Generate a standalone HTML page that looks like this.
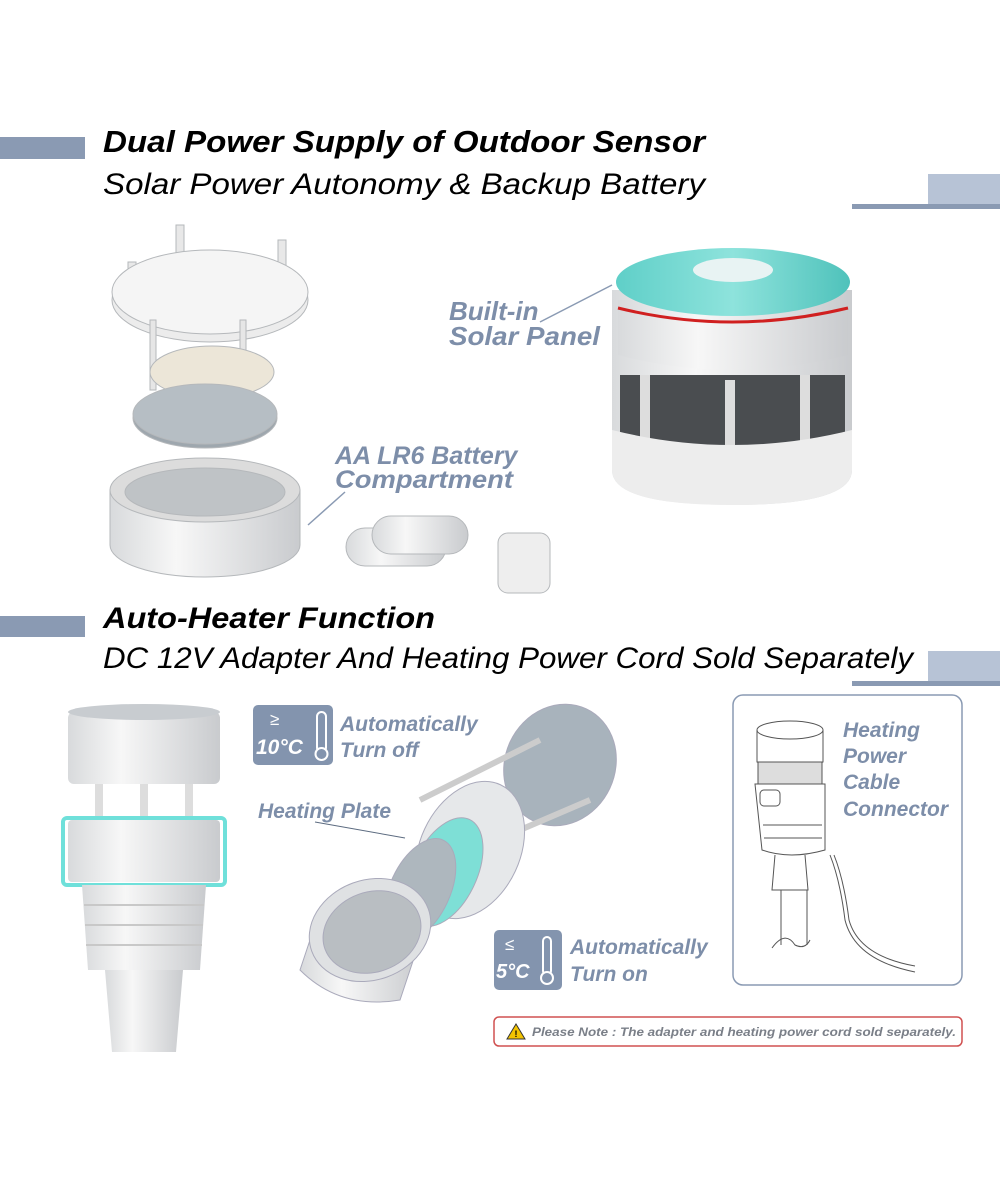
<!DOCTYPE html>
<html><head><meta charset="utf-8"><style>
html,body{margin:0;padding:0;background:#fff;width:1000px;height:1200px;overflow:hidden}
svg text{font-family:"Liberation Sans",sans-serif}
</style></head><body>
<svg width="1000" height="1200" viewBox="0 0 1000 1200" xmlns="http://www.w3.org/2000/svg">
<defs>
<linearGradient id="cyl" x1="0" x2="1"><stop offset="0" stop-color="#d8dadc"/><stop offset=".35" stop-color="#f7f7f7"/><stop offset="1" stop-color="#c9cbce"/></linearGradient>
<linearGradient id="teal" x1="0" x2="1"><stop offset="0" stop-color="#5fcfc8"/><stop offset=".5" stop-color="#8ee3dc"/><stop offset="1" stop-color="#4fc2bb"/></linearGradient>
</defs>
<rect x="0" y="137" width="85" height="22" fill="#8a9ab3"/>
<text x="103" y="152" font-size="31" font-weight="bold" font-style="italic" textLength="602" lengthAdjust="spacingAndGlyphs" fill="#000">Dual Power Supply of Outdoor Sensor</text>
<text x="103" y="194" font-size="30" font-style="italic" textLength="602" lengthAdjust="spacingAndGlyphs" fill="#000">Solar Power Autonomy &amp; Backup Battery</text>
<rect x="928" y="174" width="72" height="31" fill="#b7c3d6"/>
<rect x="852" y="204" width="148" height="5" fill="#8a9ab3"/>

<rect x="0" y="616" width="85" height="21" fill="#8a9ab3"/>
<text x="103" y="628" font-size="30" font-weight="bold" font-style="italic" textLength="332" lengthAdjust="spacingAndGlyphs" fill="#000">Auto-Heater Function</text>
<text x="103" y="668" font-size="30" font-style="italic" textLength="810" lengthAdjust="spacingAndGlyphs" fill="#000">DC 12V Adapter And Heating Power Cord Sold Separately</text>
<rect x="928" y="651" width="72" height="31" fill="#b7c3d6"/>
<rect x="852" y="681" width="148" height="5" fill="#8a9ab3"/>

<g stroke="#b5b8bb" stroke-width="1">
<rect x="128" y="262" width="8" height="50" fill="#e8e8e8"/><rect x="176" y="225" width="8" height="50" fill="#e8e8e8"/><rect x="278" y="240" width="8" height="50" fill="#e8e8e8"/>
<ellipse cx="210" cy="300" rx="98" ry="42" fill="#ececec"/>
<ellipse cx="210" cy="292" rx="98" ry="42" fill="#f5f5f5"/>
<rect x="150" y="320" width="6" height="70" fill="#e6e6e6"/><rect x="240" y="320" width="6" height="70" fill="#e6e6e6"/>
<ellipse cx="212" cy="372" rx="62" ry="26" fill="#ece6d8"/>
<ellipse cx="205" cy="418" rx="72" ry="30" fill="#9ea7ae"/>
<ellipse cx="205" cy="414" rx="72" ry="30" fill="#b6bec4"/>
<path d="M110 490 L110 545 A95 32 0 0 0 300 545 L300 490 Z" fill="url(#cyl)"/>
<ellipse cx="205" cy="490" rx="95" ry="32" fill="#dcdcdc"/>
<ellipse cx="205" cy="492" rx="80" ry="24" fill="#bfc3c6"/>
<rect x="346" y="528" width="100" height="38" rx="19" fill="url(#cyl)"/>
<rect x="372" y="516" width="96" height="38" rx="19" fill="url(#cyl)"/>
<rect x="498" y="533" width="52" height="60" rx="10" fill="#eee"/>
</g>
<line x1="308" y1="525" x2="345" y2="492" stroke="#8a9ab3" stroke-width="1.5"/>
<text x="335" y="464" font-size="25" font-weight="bold" font-style="italic" fill="#7d8ea9">AA LR6 Battery</text>
<text x="335" y="488" font-size="25" font-weight="bold" font-style="italic" fill="#7d8ea9" textLength="178" lengthAdjust="spacingAndGlyphs">Compartment</text>

<path d="M612 290 L612 470 Q612 505 732 505 Q852 505 852 470 L852 290 Z" fill="url(#cyl)"/>
<rect x="620" y="375" width="225" height="70" fill="#4a4d50"/>
<rect x="640" y="375" width="10" height="70" fill="#ddd"/><rect x="800" y="375" width="10" height="70" fill="#ddd"/><rect x="725" y="380" width="10" height="70" fill="#ddd"/>
<path d="M612 430 L612 470 Q612 505 732 505 Q852 505 852 470 L852 430 Q732 460 612 430Z" fill="#ededed"/>
<path d="M618 300 L618 355 Q732 385 848 355 L848 300 Z" fill="url(#cyl)"/>
<path d="M618 308 Q732 336 848 308" stroke="#d02020" stroke-width="3" fill="none"/>
<ellipse cx="733" cy="282" rx="117" ry="34" fill="url(#teal)"/>
<ellipse cx="733" cy="270" rx="40" ry="12" fill="#e8f3f3"/>
<line x1="540" y1="322" x2="612" y2="285" stroke="#8a9ab3" stroke-width="1.5"/>
<text x="449" y="320" font-size="26" font-weight="bold" font-style="italic" fill="#7d8ea9">Built-in</text>
<text x="449" y="345" font-size="26" font-weight="bold" font-style="italic" fill="#7d8ea9" textLength="151" lengthAdjust="spacingAndGlyphs">Solar Panel</text>

<rect x="68" y="712" width="152" height="72" rx="6" fill="url(#cyl)"/>
<ellipse cx="144" cy="712" rx="76" ry="8" fill="#c8ccd0"/>
<rect x="95" y="784" width="8" height="35" fill="#ddd"/><rect x="185" y="784" width="8" height="35" fill="#ddd"/><rect x="140" y="784" width="8" height="35" fill="#ddd"/>
<rect x="68" y="820" width="152" height="62" rx="4" fill="url(#cyl)"/>
<rect x="63" y="818" width="162" height="67" rx="4" fill="none" stroke="#6fe0da" stroke-width="4"/>
<path d="M82 885 L206 885 L200 970 L88 970 Z" fill="url(#cyl)"/>
<g stroke="#c8c8c8" stroke-width="2"><line x1="84" y1="905" x2="204" y2="905"/><line x1="85" y1="925" x2="203" y2="925"/><line x1="86" y1="945" x2="202" y2="945"/></g>
<path d="M105 970 L183 970 L176 1052 L112 1052 Z" fill="url(#cyl)"/>

<g stroke="#aab" stroke-width="1">
<ellipse cx="560" cy="765" rx="55" ry="62" transform="rotate(25 560 765)" fill="#a8b3bc"/>
<line x1="420" y1="800" x2="540" y2="740" stroke="#ccc" stroke-width="6"/>
<line x1="450" y1="860" x2="590" y2="800" stroke="#ccc" stroke-width="6"/>
<ellipse cx="470" cy="850" rx="50" ry="72" transform="rotate(25 470 850)" fill="#e6e8ea"/>
<ellipse cx="445" cy="872" rx="32" ry="58" transform="rotate(25 445 872)" fill="#7edfd6"/>
<ellipse cx="420" cy="890" rx="30" ry="55" transform="rotate(25 420 890)" fill="#aeb7be"/>
<path d="M320 910 L300 970 Q340 1010 400 1000 L420 940 Z" fill="url(#cyl)"/>
<ellipse cx="370" cy="930" rx="62" ry="50" transform="rotate(-20 370 930)" fill="#dfe1e3"/>
<ellipse cx="372" cy="932" rx="50" ry="40" transform="rotate(-20 372 932)" fill="#b9bec2"/>
</g>
<line x1="315" y1="822" x2="405" y2="838" stroke="#5c6b80" stroke-width="1"/>

<rect x="253" y="705" width="80" height="60" rx="5" fill="#8394ae"/>
<text x="270" y="725" font-size="17" fill="#fff">≥</text>
<text x="256" y="754" font-size="21" font-weight="bold" font-style="italic" fill="#fff">10°C</text>
<rect x="317" y="712" width="9" height="40" rx="4.5" fill="none" stroke="#fff" stroke-width="2"/><circle cx="321.5" cy="754" r="6" fill="#8394ae" stroke="#fff" stroke-width="2"/>
<text x="340" y="731" font-size="21" font-weight="bold" font-style="italic" fill="#7d8ea9">Automatically</text>
<text x="340" y="757" font-size="21" font-weight="bold" font-style="italic" fill="#7d8ea9">Turn off</text>
<text x="258" y="818" font-size="21" font-weight="bold" font-style="italic" fill="#7d8ea9">Heating Plate</text>

<rect x="494" y="930" width="68" height="60" rx="5" fill="#8394ae"/>
<text x="505" y="950" font-size="17" fill="#fff">≤</text>
<text x="496" y="978" font-size="20" font-weight="bold" font-style="italic" fill="#fff">5°C</text>
<rect x="543" y="937" width="8" height="38" rx="4" fill="none" stroke="#fff" stroke-width="2"/><circle cx="547" cy="978" r="6" fill="#8394ae" stroke="#fff" stroke-width="2"/>
<text x="570" y="954" font-size="21" font-weight="bold" font-style="italic" fill="#7d8ea9">Automatically</text>
<text x="570" y="981" font-size="21" font-weight="bold" font-style="italic" fill="#7d8ea9">Turn on</text>

<rect x="733" y="695" width="229" height="290" rx="10" fill="#fff" stroke="#8a9ab3" stroke-width="1.5"/>
<g fill="none" stroke="#555" stroke-width="1">
<ellipse cx="790" cy="730" rx="33" ry="9"/>
<path d="M757 730 L757 762 Q790 770 823 762 L823 730"/>
<rect x="758" y="762" width="64" height="22" fill="#ddd"/>
<path d="M755 784 L825 784 L825 850 Q790 860 762 850 Z"/>
<rect x="760" y="790" width="20" height="16" rx="4"/>
<line x1="763" y1="825" x2="822" y2="825"/><line x1="764" y1="838" x2="822" y2="838"/>
<path d="M775 855 L772 890 L808 890 L805 855"/>
<path d="M781 890 L781 945 M807 890 L807 945"/>
<path d="M772 948 Q785 930 795 945 Q805 950 810 940"/>
<path d="M830 855 Q840 880 845 920 Q855 960 915 972"/>
<path d="M834 855 Q844 880 849 920 Q859 956 915 966"/>
</g>
<text x="843" y="737" font-size="21" font-weight="bold" font-style="italic" fill="#7d8ea9">Heating</text>
<text x="843" y="763" font-size="21" font-weight="bold" font-style="italic" fill="#7d8ea9">Power</text>
<text x="843" y="789" font-size="21" font-weight="bold" font-style="italic" fill="#7d8ea9">Cable</text>
<text x="843" y="816" font-size="21" font-weight="bold" font-style="italic" fill="#7d8ea9">Connector</text>

<rect x="494" y="1017" width="468" height="29" rx="5" fill="#fff" stroke="#d05050" stroke-width="1.5"/>
<path d="M516 1024 L525 1039 L507 1039 Z" fill="#f2c300" stroke="#333" stroke-width="1"/>
<text x="514.5" y="1037" font-size="9" font-weight="bold" fill="#000">!</text>
<text x="532" y="1036" font-size="12" font-weight="bold" font-style="italic" fill="#7a7f88" textLength="424" lengthAdjust="spacingAndGlyphs">Please Note : The adapter and heating power cord sold separately.</text>
</svg>
</body></html>
